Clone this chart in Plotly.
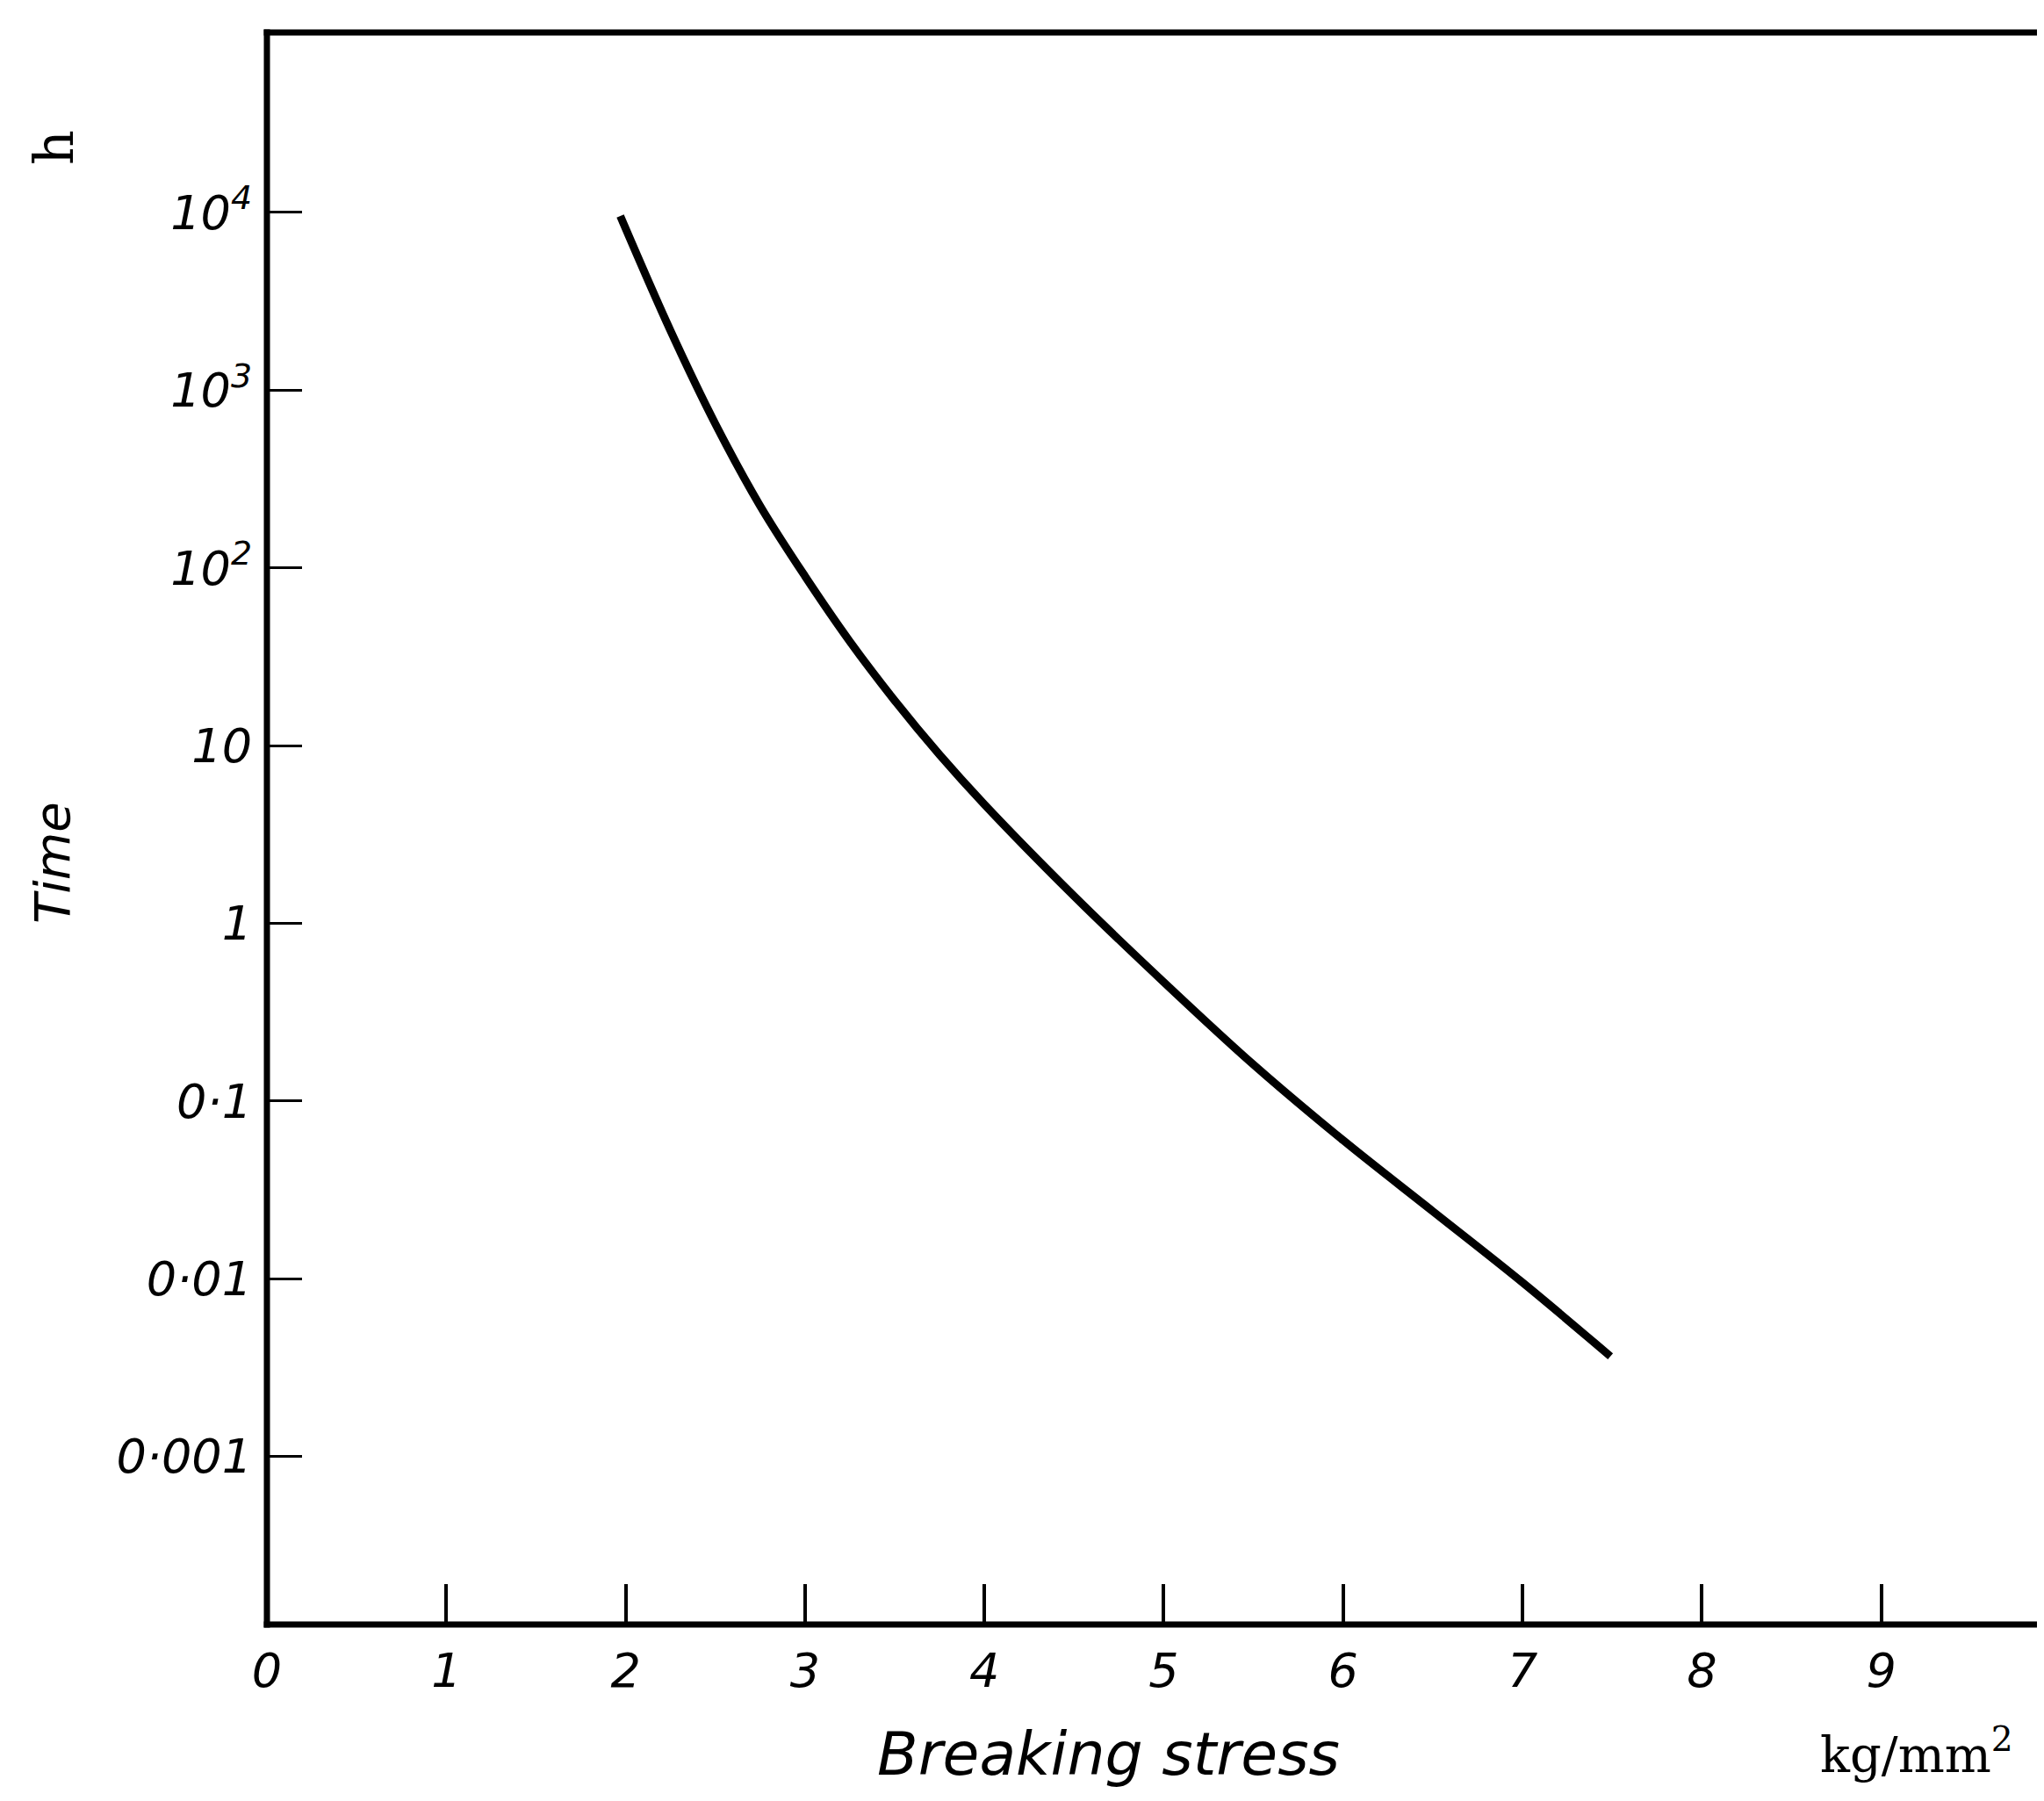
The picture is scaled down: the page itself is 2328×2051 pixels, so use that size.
import plotly.graph_objects as go

# Data (breaking stress kg/mm^2 vs time h, log scale)
stress = [1.97, 2.25, 2.5, 2.75, 3.0, 3.25, 3.5, 3.75, 4.0, 4.5, 5.0, 5.5,
          6.0, 6.5, 7.0, 7.49]
time_h = [9550, 2160, 646, 223, 89.7, 38.5, 17.9, 8.87, 4.66, 1.42, 0.466, 0.160,
          0.060, 0.0239, 0.0095, 0.00365]

x_tickvals = [0, 1, 2, 3, 4, 5, 6, 7, 8, 9]
x_ticktext = ["0", "1", "2", "3", "4", "5", "6", "7", "8", "9"]
y_tickvals = [1e4, 1e3, 1e2, 10, 1, 0.1, 0.01, 0.001]
y_ticktext = ["10<sup>4</sup>", "10<sup>3</sup>", "10<sup>2</sup>", "10", "1",
              "0·1", "0·01", "0·001"]

# The browser body has an 8px default margin: size the figure to fit inside it.
OFF = 8
W, H = 2328 - 2 * OFF, 2051 - 2 * OFF
L, R, T, B = 304 - OFF, 0, 37 - OFF, (H + OFF) - 1850

fig = go.Figure()
fig.add_trace(go.Scatter(
    x=stress, y=time_h, mode="lines",
    line=dict(color="black", width=9, shape="spline", smoothing=1.0),
    showlegend=False, hoverinfo="skip",
))

tick_font = dict(family="DejaVu Sans", size=54, color="black", style="italic")

fig.update_layout(
    width=W, height=H,
    margin=dict(l=L, r=R, t=T, b=B, pad=0),
    paper_bgcolor="white", plot_bgcolor="white",
    font=dict(family="DejaVu Sans", color="black"),
    xaxis=dict(
        range=[0, 9.868], tickvals=x_tickvals, ticktext=x_ticktext,
        ticks="inside", ticklen=46, tickwidth=4, tickcolor="black",
        showline=False, showgrid=False, zeroline=False, tickfont=tick_font,
        ticklabelstandoff=16,
    ),
    yaxis=dict(
        type="log", range=[-3.947, 5.013], tickvals=y_tickvals, ticktext=y_ticktext,
        ticks="inside", ticklen=40, tickwidth=3, tickcolor="black",
        showline=False, showgrid=False, zeroline=False, tickfont=tick_font,
        ticklabelstandoff=16,
    ),
)

pw = W - L - R
ph = H - T - B


def px(xp):
    # page pixel -> paper fraction
    return (xp - OFF - L) / pw


def py(yp):
    return (H - B - (yp - OFF)) / ph


# Frame: left, top and bottom borders (the right border lies off the page)
frame = dict(color="black", width=7)
fig.add_shape(type="line", xref="paper", yref="paper", x0=px(304), x1=px(304),
              y0=py(1853.5), y1=py(33.5), line=frame, layer="above")
fig.add_shape(type="line", xref="paper", yref="paper", x0=px(300.5), x1=1.0,
              y0=py(37), y1=py(37), line=frame, layer="above")
fig.add_shape(type="line", xref="paper", yref="paper", x0=px(300.5), x1=1.0,
              y0=py(1850), y1=py(1850), line=frame, layer="above")

fig.add_annotation(text="Breaking stress", xref="paper", yref="paper",
                   x=px(1262), y=py(1997), showarrow=False,
                   font=dict(family="DejaVu Sans", size=68, style="italic"),
                   xanchor="center", yanchor="middle")
fig.add_annotation(text="kg/mm<sup>2</sup>", xref="paper", yref="paper",
                   x=px(2183), y=py(1994), showarrow=False,
                   font=dict(family="DejaVu Serif", size=56),
                   xanchor="center", yanchor="middle")
fig.add_annotation(text="Time", xref="paper", yref="paper",
                   x=px(59), y=py(983), showarrow=False, textangle=-90,
                   font=dict(family="DejaVu Sans", size=56, style="italic"),
                   xanchor="center", yanchor="middle")
fig.add_annotation(text="h", xref="paper", yref="paper",
                   x=px(61), y=py(168), showarrow=False, textangle=-90,
                   font=dict(family="DejaVu Serif", size=62),
                   xanchor="center", yanchor="middle")

fig.write_html("out.html")
